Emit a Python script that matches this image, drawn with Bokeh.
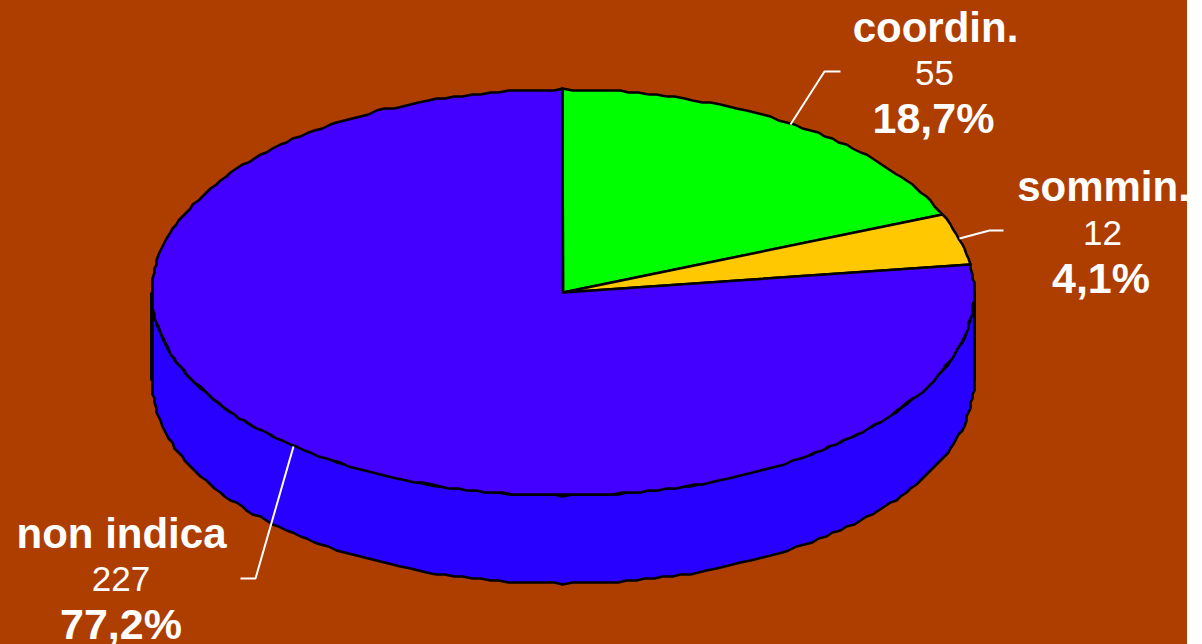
import numpy as np
from bokeh.plotting import figure
from bokeh.models import Range1d
from bokeh.core.properties import value
from bokeh.embed import file_html
from bokeh.resources import INLINE

categories = ["coordin.", "sommin.", "non indica"]
counts = [55, 12, 227]
percent_labels = ["18,7%", "4,1%", "77,2%"]
percent_values = [18.7, 4.1, 77.2]
top_colors = ["#00FF00", "#FFC800", "#4400FF"]
side_color = "#2800FF"
bg = "#AE3E00"

W, H = 1187, 644
cx, cy, rx, ry, depth = 562.5, 292, 411, 203, 88
name_x = [935, 1103, 121]
count_x = [934, 1102, 120.5]
pct_x = [933, 1100.5, 120.5]
name_y = [27, 186, 533]
count_y = [72, 232, 578]
pct_y = [117, 277, 623]
leaders = [([790, 824, 840], [124, 71, 71]),
           ([959, 989, 1003], [238, 230, 230]),
           ([293, 255, 240], [446, 578, 578])]
STEP = 2.0
DENSITY = 45  # outline points per radian


def wobble(v):
    # the source outline is a slightly stepped polygon
    return np.round(v / STEP) * STEP


p = figure(width=W + 1, height=H + 1, output_backend="svg", toolbar_location=None,
           x_range=Range1d(-1, W), y_range=Range1d(H, -1), min_border=0,
           background_fill_color=bg, border_fill_color=bg, outline_line_color=None)
p.axis.visible = False
p.grid.visible = False
p.styles = {"position": "absolute", "left": "-1px", "top": "-1px"}

# rim (front half of the cylinder)
t = np.linspace(np.pi / 2, 3 * np.pi / 2, int(np.pi * DENSITY))
ex, ey = wobble(cx + rx * np.sin(t)), wobble(cy - ry * np.cos(t))
sx = np.concatenate([ex, ex[::-1]])
sy = np.concatenate([ey, ey[::-1] + depth])
p.patch(sx, sy, fill_color=side_color, line_color="black", line_width=2.5, line_join="round")
p.line([cx - rx - 0.5] * 2, [cy, cy + depth], line_color="black", line_width=3)
p.line([cx + rx + 0.5] * 2, [cy, cy + depth], line_color="black", line_width=3)

# top face, clockwise from 12 o'clock
edges = np.cumsum([0] + percent_values) / sum(percent_values) * 2 * np.pi
for a, b, c in zip(edges[:-1], edges[1:], top_colors):
    n = max(int((b - a) * DENSITY), 6)
    tt = np.linspace(a, b, n)
    px = np.concatenate([[cx], wobble(cx + rx * np.sin(tt))])
    py = np.concatenate([[cy], wobble(cy - ry * np.cos(tt))])
    p.patch(px, py, fill_color=c, line_color="black", line_width=2.5, line_join="round")

for lx, ly in leaders:
    p.line(lx, ly, line_color="white", line_width=2)

font = value("Liberation Sans")
p.text(name_x, name_y, text=categories, text_font=font, text_font_size="42px",
       text_font_style="bold", text_color="white", text_align="center", text_baseline="alphabetic")
p.text(count_x, count_y, text=[str(c) for c in counts], text_font=font, text_font_size="35px",
       text_color="white", text_align="center", text_baseline="alphabetic")
p.text(pct_x, pct_y, text=percent_labels, text_font=font, text_font_size="43px",
       text_font_style="bold", text_color="white", text_align="center", text_baseline="alphabetic")

open("out.html", "w").write(file_html(p, INLINE))
